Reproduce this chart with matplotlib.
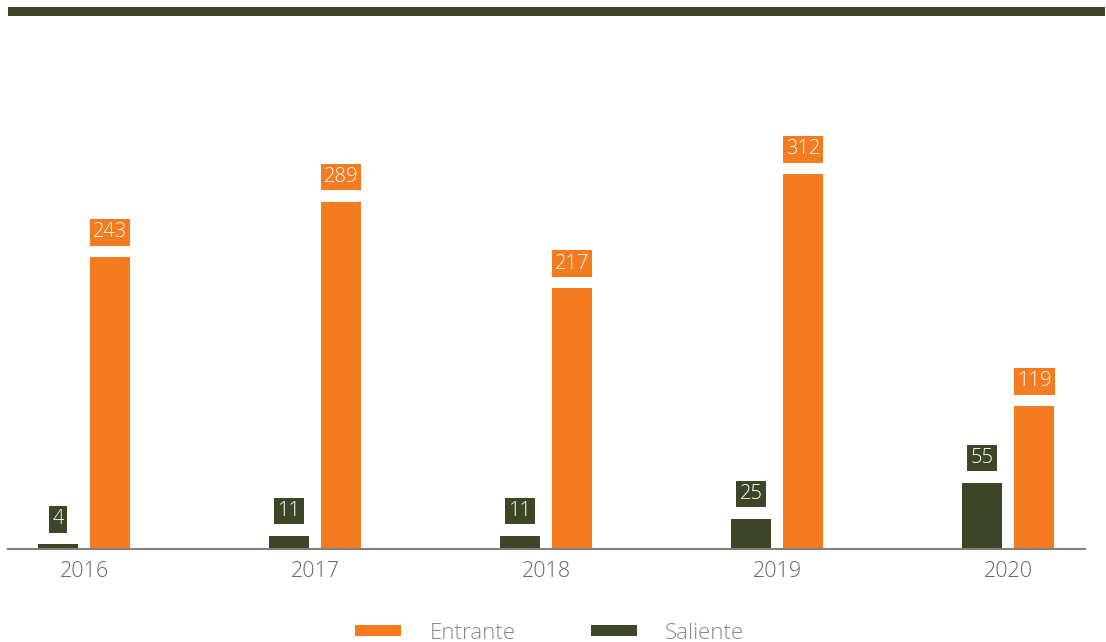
import matplotlib.pyplot as plt
from matplotlib.patches import Rectangle, Patch

plt.rcParams['font.family'] = ['Open Sans', 'DejaVu Sans']
plt.rcParams['font.weight'] = 'light'

years = ['2016', '2017', '2018', '2019', '2020']
entrante = [243, 289, 217, 312, 119]
saliente = [4, 11, 11, 25, 55]

orange = '#f47b20'
olive = '#3d4527'

fig = plt.figure(figsize=(11.06, 6.42), dpi=100)
ax = fig.add_axes([0.0072, 0.1449, 0.9738, 0.8084])

# barra decorativa superior
fig.patches.append(Rectangle((0.0072, 0.975), 0.9920, 0.014, transform=fig.transFigure,
                             facecolor=olive, edgecolor='none'))

x = list(range(len(years)))
w = 0.173
off = 0.1126
b_sal = ax.bar([i - off for i in x], saliente, width=w, color=olive, zorder=2)
b_ent = ax.bar([i + off for i in x], entrante, width=w, color=orange, zorder=2)

# etiquetas
for bars, vals, col in [(b_sal, saliente, olive), (b_ent, entrante, orange)]:
    for bar, v in zip(bars, vals):
        ax.annotate(str(v), (bar.get_x() + bar.get_width() / 2, bar.get_height()),
                    xytext=(0, 17.8), textcoords='offset points', ha='center', va='center',
                    fontsize=14.5, color='white',
                    bbox=dict(boxstyle='square,pad=0.16', facecolor=col, edgecolor='none'))

ax.set_xlim(-0.329, 4.333)
ax.set_ylim(0, 432)
ax.set_xticks(x)
ax.set_xticklabels(years, fontsize=15.5, color='#666666')
ax.tick_params(axis='x', length=0, pad=9)
ax.set_yticks([])
for s in ['top', 'right', 'left']:
    ax.spines[s].set_visible(False)
ax.spines['bottom'].set_color('#808080')
ax.spines['bottom'].set_linewidth(1.5)

handles = [Patch(facecolor=orange, label='Entrante'), Patch(facecolor=olive, label='Saliente')]
fig.legend(handles=handles, loc='center', bbox_to_anchor=(0.497, 0.014), ncol=2, frameon=False,
           fontsize=16, labelcolor='#888888', handlelength=2.07, handleheight=0.4,
           handletextpad=1.26, columnspacing=3.4)

plt.savefig('out.png', dpi=100)
plt.close()
